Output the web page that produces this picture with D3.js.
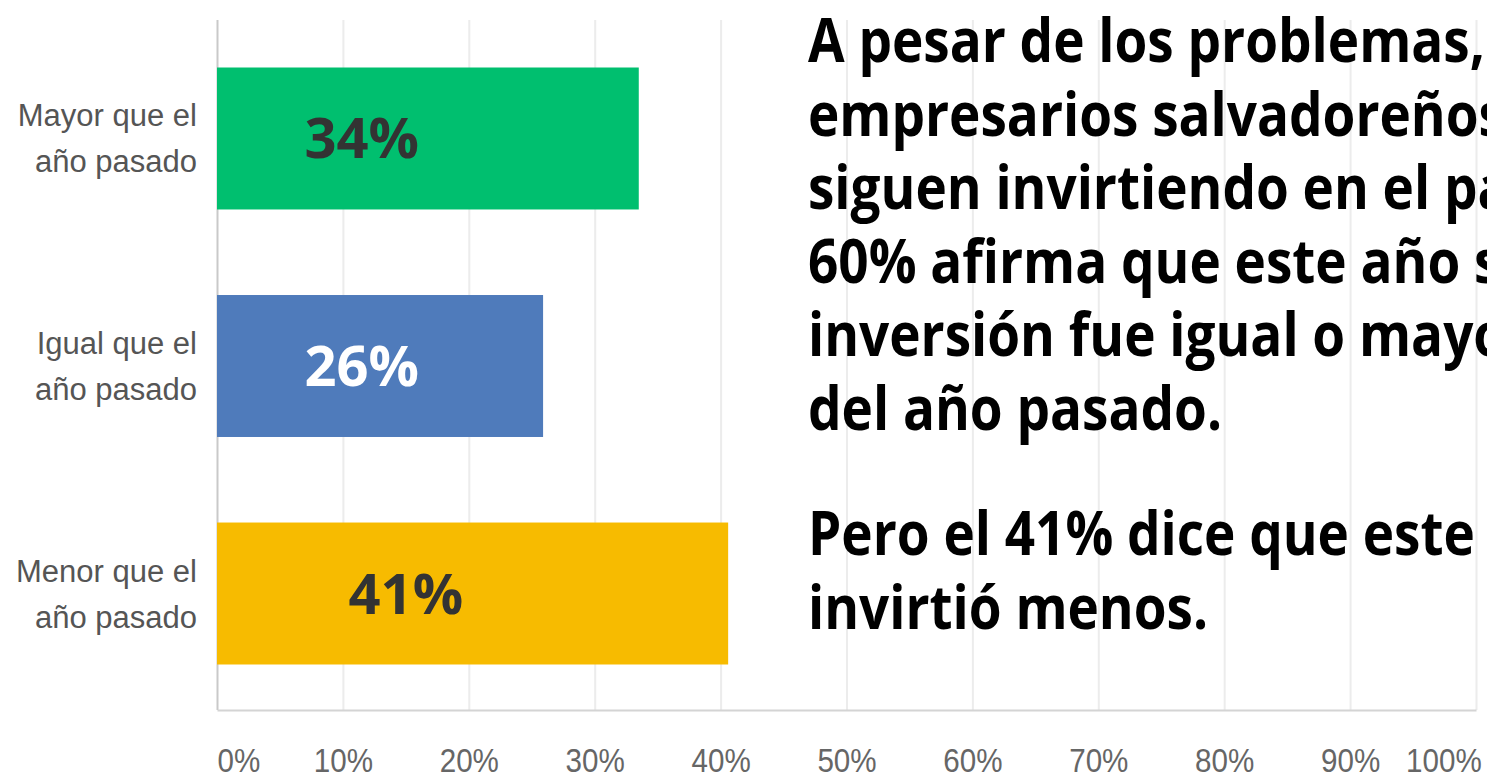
<!DOCTYPE html>
<html>
<head>
<meta charset="utf-8">
<script src="https://cdn.jsdelivr.net/npm/d3@7"></script>
<style>
  body { margin: 0; background: #fff; }
  svg { display: block; }
</style>
</head>
<body>
<div id="chart"></div>
<script>
// Data
var categories = ["Mayor que el año pasado", "Igual que el año pasado", "Menor que el año pasado"];
var categoryLines = [["Mayor que el", "año pasado"], ["Igual que el", "año pasado"], ["Menor que el", "año pasado"]];
var values = [33.5, 25.9, 40.6];
var valueLabels = ["34%", "26%", "41%"];
var labelAt = [11.5, 11.5, 15];
var tickValues = [0, 10, 20, 30, 40, 50, 60, 70, 80, 90, 100];
var headlineLines = [
    "A pesar de los problemas,",
    "empresarios salvadoreños",
    "siguen invirtiendo en el país.",
    "60% afirma que este año su",
    "inversión fue igual o mayor",
    "del año pasado."
];
var noteLines = ["Pero el 41% dice que este año", "invirtió menos."];

var barColors = ["#00bf6f", "#4f7bbb", "#f7bb00"];
var labelColors = ["#333333", "#ffffff", "#333333"];

// SVG area
var svgWidth = 1487;
var svgHeight = 778;

var svg = d3.select("#chart")
    .append("svg")
    .attr("width", svgWidth)
    .attr("height", svgHeight);

// Scales
var xScale = d3.scaleLinear()
    .domain([0, 100])
    .range([217, 1476]);

var yScale = d3.scaleBand()
    .domain(categories)
    .range([22, 710])
    .paddingInner(0.376)
    .paddingOuter(0.2);

// Light vertical gridlines
var grid = svg.append("g")
    .attr("transform", "translate(0, 710)")
    .call(d3.axisBottom(xScale).tickValues(tickValues).tickSize(-690).tickFormat(""));
grid.select(".domain").remove();
grid.selectAll(".tick line")
    .attr("stroke", d => d === 0 ? "#c9c9c9" : "#ececec")
    .attr("stroke-width", 2);

// Bottom axis with labels
var xAxis = svg.append("g")
    .attr("transform", "translate(0, 710)")
    .call(d3.axisBottom(xScale).tickValues(tickValues).tickSizeInner(0).tickSizeOuter(0)
        .tickPadding(38).tickFormat(d => d + "%"));
xAxis.select(".domain")
    .attr("stroke", "#d4d4d4")
    .attr("stroke-width", 2);
xAxis.selectAll(".tick text")
    .attr("fill", "#666")
    .style("font-family", "'Liberation Sans', Arial, sans-serif")
    .style("font-size", "34px")
    .attr("transform", "scale(0.87, 1)")
    .attr("text-anchor", d => d === 0 ? "start" : (d === 100 ? "end" : "middle"))
    .attr("dx", d => d === 100 ? 6 : 0);

// Bars
svg.selectAll(".bar")
    .data(values)
    .enter()
    .append("rect")
    .attr("class", "bar")
    .attr("x", xScale(0))
    .attr("y", (d, i) => yScale(categories[i]))
    .attr("width", d => xScale(d) - xScale(0))
    .attr("height", yScale.bandwidth())
    .attr("fill", (d, i) => barColors[i]);

// Value labels on bars
svg.selectAll(".value-label")
    .data(valueLabels)
    .enter()
    .append("text")
    .attr("class", "value-label")
    .attr("x", (d, i) => xScale(labelAt[i]))
    .attr("y", (d, i) => yScale(categories[i]) + yScale.bandwidth() / 2 + 20)
    .attr("text-anchor", "middle")
    .attr("fill", (d, i) => labelColors[i])
    .style("font-family", "'Open Sans', sans-serif")
    .style("font-weight", "bold")
    .style("font-size", "56px")
    .text(d => d);

// Category labels (two lines each)
categoryLines.forEach(function (lines, i) {
    var cy = yScale(categories[i]) + yScale.bandwidth() / 2;
    var label = svg.append("text")
        .attr("text-anchor", "end")
        .attr("fill", "#555")
        .style("font-family", "'Liberation Sans', Arial, sans-serif")
        .style("font-size", "31px");
    lines.forEach(function (line, j) {
        label.append("tspan")
            .attr("x", 197)
            .attr("y", cy - 12 + j * 46)
            .text(line);
    });
});

// Headline text on the right
var textGroup = svg.append("g");
function addBlock(lines, startY) {
    lines.forEach(function (line, j) {
        textGroup.append("text")
            .attr("class", "headline")
            .attr("x", 0)
            .attr("y", startY + j * 73.6)
            .attr("fill", "#000")
            .style("font-family", "'Open Sans', sans-serif")
            .style("font-weight", "bold")
            .style("font-size", "61px")
            .text(line);
    });
}
addBlock(headlineLines, 62);
addBlock(noteLines, 555);

// squeeze horizontally so the first line fits its width in the picture
var firstWidth = textGroup.select(".headline").node().getComputedTextLength();
var squeeze = 677 / firstWidth;
textGroup.attr("transform", "translate(808, 0) scale(" + squeeze + ", 1)");
</script>
</body>
</html>
